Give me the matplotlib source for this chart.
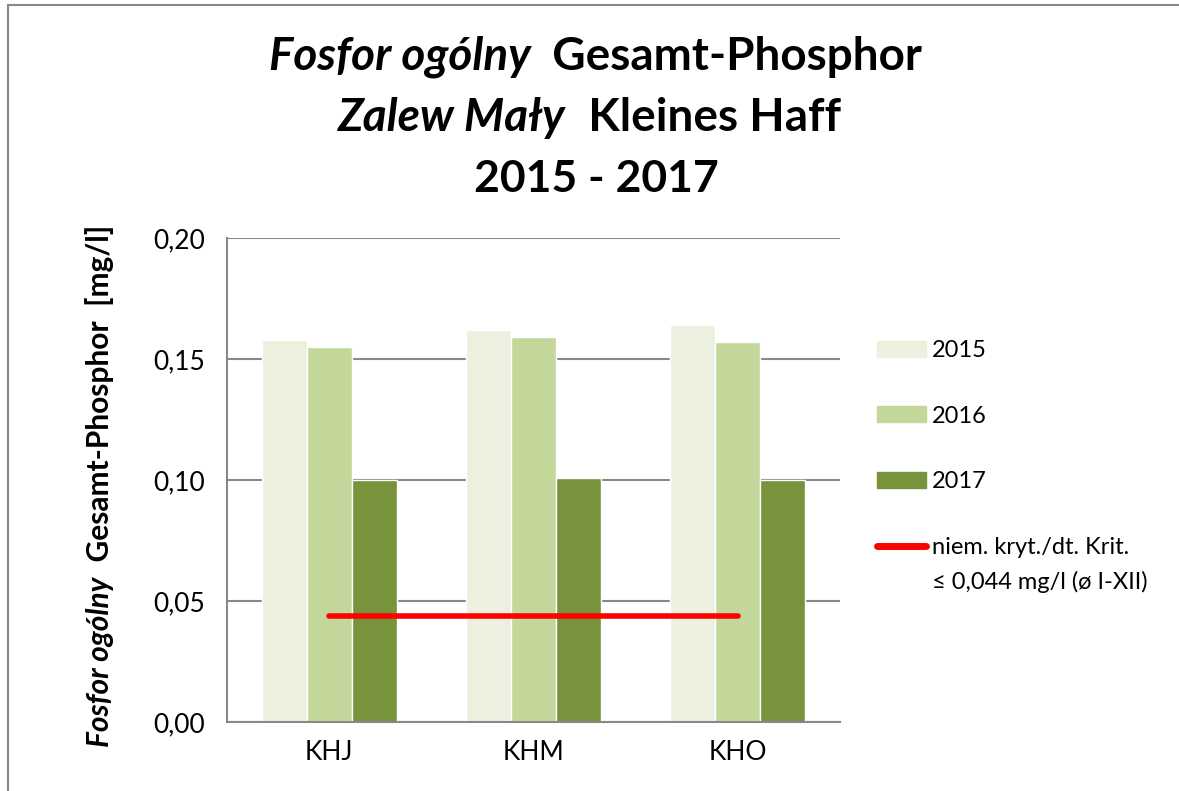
import numpy as np
import matplotlib.pyplot as plt
import matplotlib.patches as mpatches
from matplotlib.lines import Line2D

plt.rcParams['font.family'] = ['Lato', 'DejaVu Sans']

# data
stations = ["KHJ", "KHM", "KHO"]
years = ["2015", "2016", "2017"]
v2015 = [0.158, 0.162, 0.164]
v2016 = [0.155, 0.159, 0.157]
v2017 = [0.100, 0.101, 0.100]
crit = 0.044
crit_label = ["niem. kryt./dt. Krit.", "≤ 0,044 mg/l (ø I-XII)"]
colors = ["#EBF1DE", "#C4D79B", "#77933C"]
grid_c = "#898989"

fig = plt.figure(figsize=(11.79, 7.91), dpi=100)
ax = fig.add_axes([0.1925, 0.0872, 0.52, 0.612])

x = np.arange(len(stations))
w = 0.22
for i, vals in enumerate([v2015, v2016, v2017]):
    ax.bar(x + (i - 1) * w, vals, width=w, color=colors[i], edgecolor="white",
           linewidth=1, label=years[i], zorder=2)
ax.plot(x, [crit] * len(x), color="#FF0000", lw=4, solid_capstyle="round", zorder=3)

ax.set_xlim(-0.5, 2.5)
ax.set_ylim(0, 0.2)
ax.set_yticks([0, 0.05, 0.10, 0.15, 0.20])
ax.set_yticklabels(["0,00", "0,05", "0,10", "0,15", "0,20"])
ax.set_xticks(x)
ax.set_xticklabels(stations)
ax.tick_params(length=0, labelsize=19, pad=16)
ax.tick_params(axis="x", pad=13)
ax.yaxis.grid(True, color=grid_c, lw=1.5)
ax.set_axisbelow(True)
for s in ["top", "right"]:
    ax.spines[s].set_visible(False)
for s in ["left", "bottom"]:
    ax.spines[s].set_color(grid_c)
    ax.spines[s].set_linewidth(1.5)

handles = [mpatches.Patch(color=c) for c in colors]
handles.append(Line2D([], [], color="#FF0000", lw=5, solid_capstyle="round"))
leg = fig.legend(handles, years + [crit_label[0]], loc="upper left",
                 bbox_to_anchor=(0.7255, 0.597), frameon=False, fontsize=17,
                 handlelength=2.1, handleheight=0.65, labelspacing=1.89,
                 handletextpad=0.25)

# mixed-style text helper
fig.canvas.draw()
rend = fig.canvas.get_renderer()

# second line of the criterion label, under the first
bb = leg.get_texts()[3].get_window_extent(rend)
fig.text(bb.x0 / fig.bbox.width, (bb.y0 - 35 + bb.height / 2) / fig.bbox.height,
         crit_label[1], fontsize=17, ha="left", va="center")


def mixed(parts, cx, cy, size, rotation=0):
    texts = []
    for s, style in parts:
        t = fig.text(0, 0, s, fontsize=size, fontweight="bold", fontstyle=style,
                     rotation=rotation, ha="left", va="center", rotation_mode="anchor")
        texts.append(t)
    sizes = []
    for t in texts:
        bb = t.get_window_extent(rend)
        sizes.append(bb.height if rotation else bb.width)
    total = sum(sizes)
    W, H = fig.bbox.width, fig.bbox.height
    pos = -total / 2
    for t, sz in zip(texts, sizes):
        if rotation:
            t.set_position((cx, cy + pos / H))
        else:
            t.set_position((cx + pos / W, cy))
        pos += sz


mixed([("Fosfor ogólny", "italic"), ("  Gesamt-Phosphor", "normal")], 0.505, 1 - 57 / 791, 33)
mixed([("Zalew Mały", "italic"), ("  Kleines Haff", "normal")], 0.50, 1 - 118 / 791, 33)
fig.text(0.506, 1 - 179 / 791, "2015 - 2017", fontsize=32, fontweight="bold", ha="center", va="center")
mixed([("Fosfor ogólny", "italic"), ("  Gesamt-Phosphor  [mg/l]", "normal")], 100 / 1179, 1 - 486 / 791, 21.5, rotation=90)

# chart area frame: only left and top edges are visible
fig.add_artist(Line2D([8 / 1179, 8 / 1179], [0, 1 - 4.5 / 791], transform=fig.transFigure,
                      color="#898989", lw=1.5))
fig.add_artist(Line2D([8 / 1179, 1], [1 - 4.5 / 791, 1 - 4.5 / 791], transform=fig.transFigure,
                      color="#898989", lw=1.5))

fig.savefig("out.png", dpi=100)
